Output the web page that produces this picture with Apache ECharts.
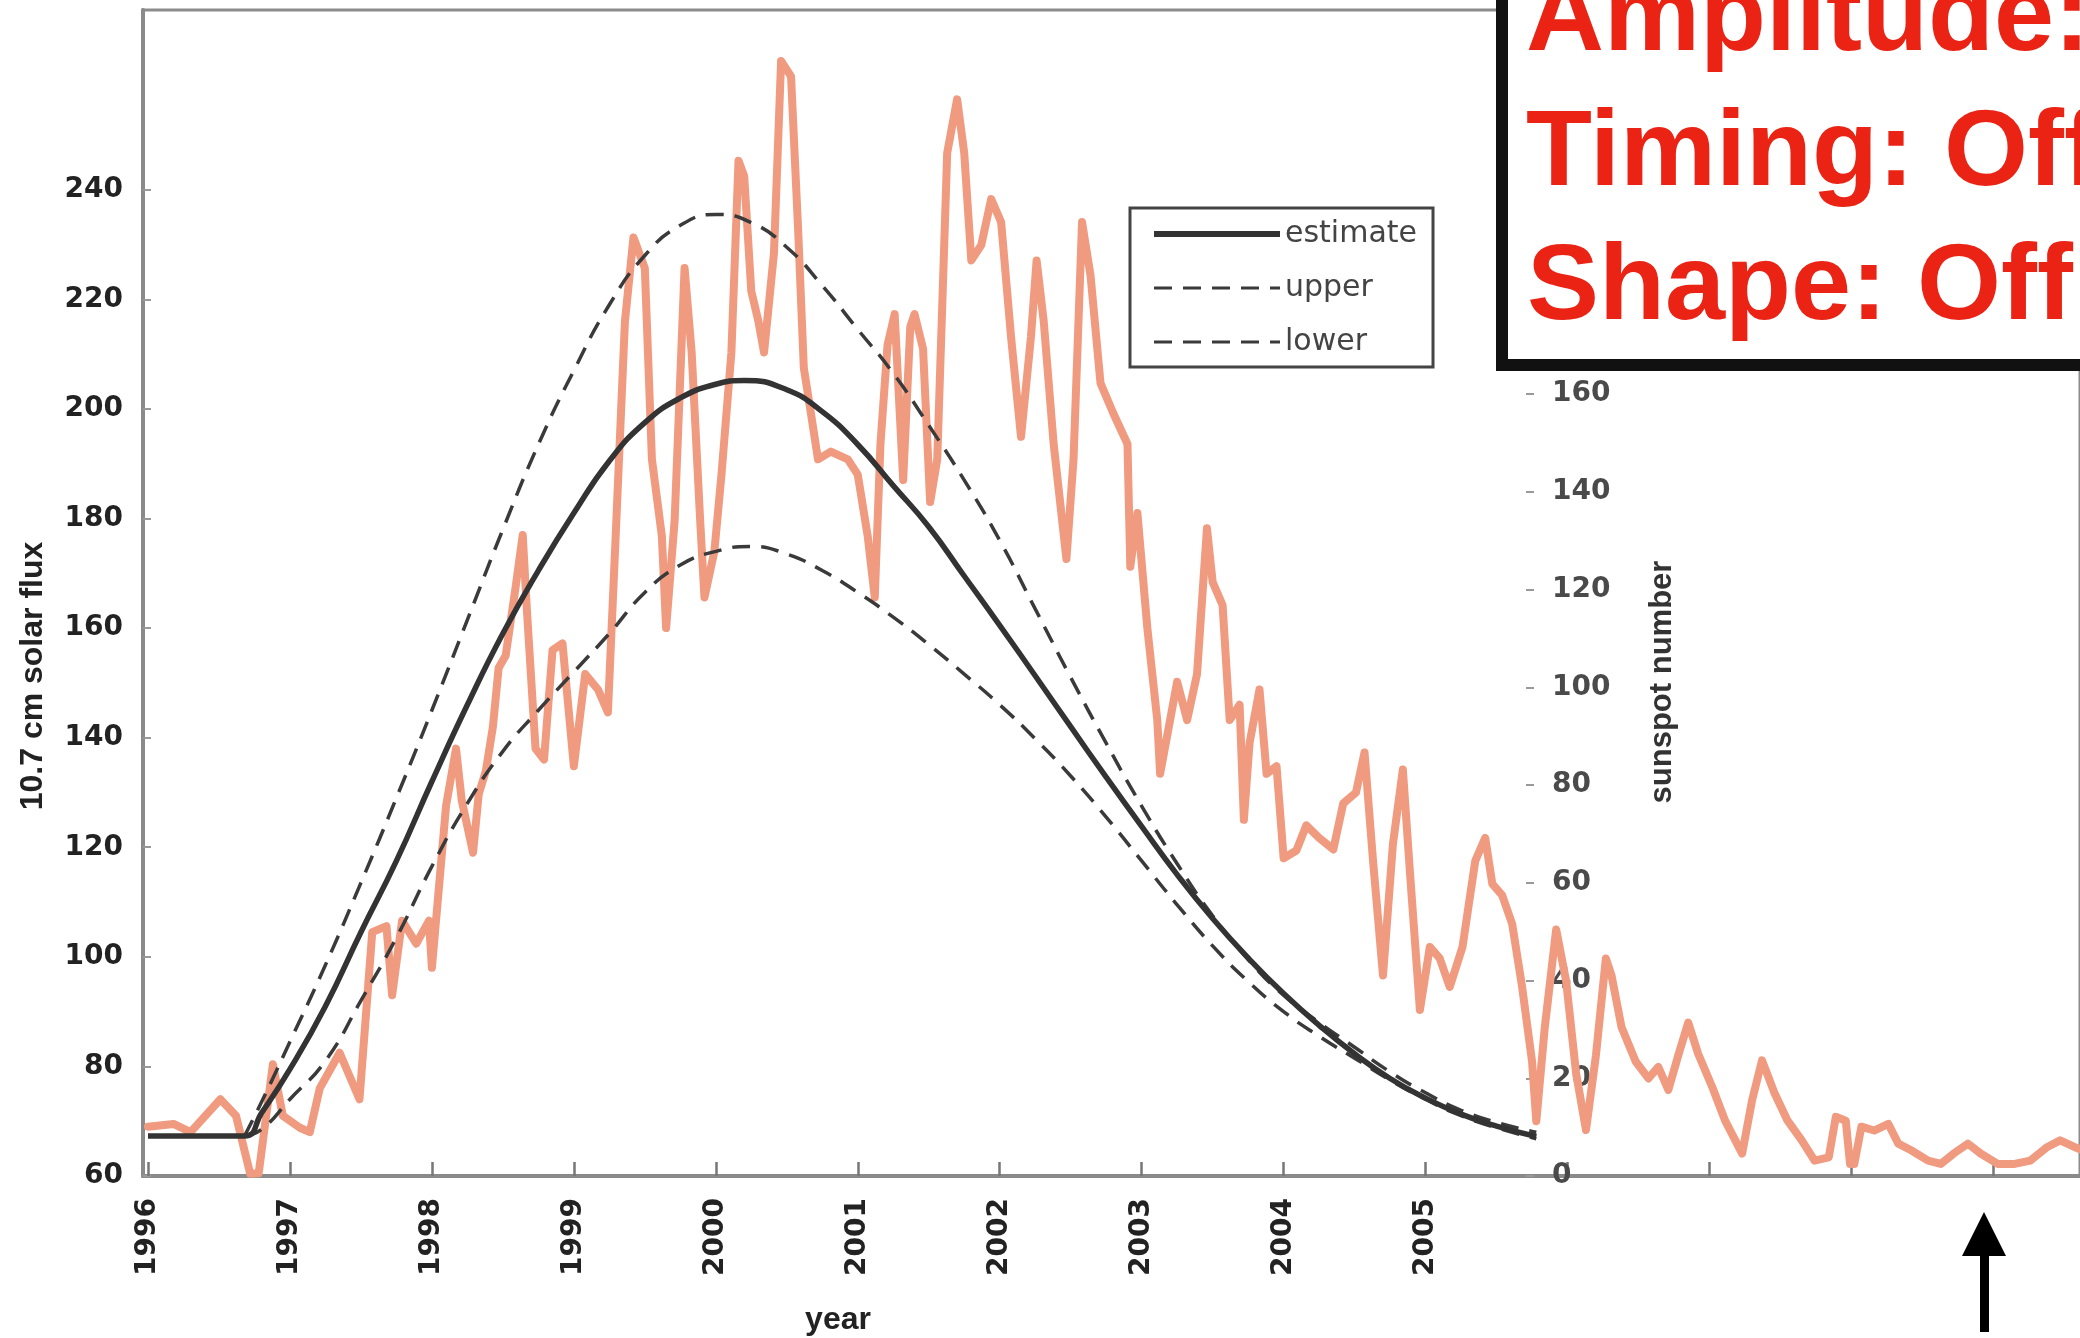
<!DOCTYPE html>
<html>
<head>
<meta charset="utf-8">
<script src="https://cdn.jsdelivr.net/npm/echarts@6/dist/echarts.min.js"></script>
<style>
html,body{margin:0;padding:0;background:#fff;}
#main{width:2080px;height:1338px;}
</style>
</head>
<body>
<div id="main"></div>
<script>
// ---------- DATA ----------
const observedYears = [1996.00,1996.18,1996.30,1996.51,1996.62,1996.72,1996.78,1996.88,1996.95,1997.07,1997.14,1997.21,1997.35,1997.49,1997.58,1997.68,1997.72,1997.79,1997.89,1997.98,1998.00,1998.10,1998.17,1998.21,1998.29,1998.33,1998.38,1998.43,1998.47,1998.52,1998.59,1998.64,1998.67,1998.73,1998.79,1998.85,1998.92,1999.00,1999.08,1999.17,1999.24,1999.29,1999.36,1999.42,1999.50,1999.55,1999.62,1999.65,1999.71,1999.78,1999.83,1999.89,1999.92,1999.99,2000.04,2000.11,2000.16,2000.20,2000.25,2000.30,2000.34,2000.41,2000.46,2000.53,2000.58,2000.62,2000.67,2000.72,2000.81,2000.93,2001.00,2001.07,2001.12,2001.16,2001.21,2001.26,2001.32,2001.37,2001.40,2001.46,2001.51,2001.56,2001.63,2001.70,2001.75,2001.80,2001.87,2001.94,2002.01,2002.08,2002.15,2002.22,2002.26,2002.31,2002.38,2002.47,2002.52,2002.58,2002.64,2002.71,2002.80,2002.90,2002.92,2002.97,2003.04,2003.11,2003.13,2003.18,2003.25,2003.32,2003.39,2003.46,2003.50,2003.57,2003.62,2003.69,2003.72,2003.76,2003.83,2003.88,2003.95,2004.00,2004.09,2004.16,2004.25,2004.35,2004.42,2004.51,2004.57,2004.63,2004.70,2004.77,2004.84,2004.89,2004.96,2005.03,2005.10,2005.17,2005.26,2005.35,2005.42,2005.47,2005.54,2005.61,2005.68,2005.75,2005.78,2005.84,2005.92,2005.99,2006.06,2006.13,2006.20,2006.27,2006.31,2006.38,2006.48,2006.57,2006.64,2006.71,2006.78,2006.85,2006.92,2007.02,2007.11,2007.23,2007.30,2007.37,2007.46,2007.55,2007.65,2007.74,2007.84,2007.89,2007.96,2007.99,2008.02,2008.07,2008.16,2008.26,2008.33,2008.42,2008.54,2008.63,2008.72,2008.82,2008.91,2009.03,2009.15,2009.26,2009.38,2009.47,2009.57,2009.65];
const observedFlux = [69,69.5,68,74,71,60.4,60.5,80.4,71,68.8,68,76,82.5,74,104.5,105.6,93,106.6,102.4,106.6,98,127.6,138,128.6,119,129.7,133.9,142,152.7,155,167.5,177,163,138,136,156,157.2,134.8,151.6,148.8,144.6,174,216,231.3,225.7,190.8,176.8,160,179.6,225.7,210.3,179.6,165.6,174,188,210.3,245.3,242.5,221.5,216,210.3,228.5,263.5,260.7,232.7,207.5,199.2,190.8,192.2,190.8,188,176.8,165.6,193.6,211.7,217.3,187,215,217.3,211,183,190.8,246.7,256.5,246.7,227.1,229.9,238.3,234.1,213.1,194.9,213.1,227.1,216,193.6,172.6,190.8,234.1,224.3,204.7,199.2,193.6,171.2,181,160,143.2,133.4,140.4,150.2,143.2,151.6,178.2,168.4,164.2,143.2,146,125,139,148.8,133.4,134.8,118,119.4,124,121.7,119.6,128,130,137.3,117.5,96.6,120.6,134.2,115.4,90.3,101.8,99.7,94.5,101.8,117.5,121.7,113.3,111.2,106,94.5,80.9,70,87.2,105,95.6,78.8,68.4,82,99.7,96.6,87.2,80.9,77.8,79.9,75.7,82,88,82.3,76.2,70.1,64.1,73.8,81.1,75,70.1,66.5,62.8,63.4,70.8,70.1,62.2,62.2,69,68.3,69.5,65.9,64.7,62.8,62.2,64.1,65.9,64.1,62.2,62.2,62.8,65.3,66.5,65.3,64.5];

const estimateYears = [1996.00,1996.68,1996.80,1997.00,1997.25,1997.50,1997.75,1998.00,1998.25,1998.50,1998.75,1999.00,1999.25,1999.50,1999.75,2000.00,2000.20,2000.50,2000.75,2001.00,2001.25,2001.50,2001.75,2002.00,2002.25,2002.50,2002.75,2003.00,2003.25,2003.50,2003.75,2004.00,2004.25,2004.50,2004.75,2005.00,2005.25,2005.50,2005.78];
const estimateFlux  = [67.3,67.3,71.5,79.5,91,104.5,117.5,132,146,159,170.5,181,190.5,197.5,202,204.5,205.2,203.5,199.5,193.5,186,178.5,169.5,160.5,151.3,142,132.8,123.8,115,107,99.8,93.3,87.5,82.3,77.8,74.2,71.3,69.1,67.2];

const upperYears = [1996.68,1996.80,1997.00,1997.25,1997.50,1997.75,1998.00,1998.25,1998.50,1998.75,1999.00,1999.25,1999.50,1999.75,2000.00,2000.25,2000.50,2000.75,2001.00,2001.25,2001.50,2001.75,2002.00,2002.25,2002.50,2002.75,2003.00,2003.25,2003.50,2003.75,2004.00,2004.25,2004.50,2004.75,2005.00,2005.25,2005.50,2005.78];
const upperFlux  = [67.3,73.5,84.5,98.5,113.5,129,145,161.5,178,193.5,207,219,228,233.5,235.5,234,229.5,222.5,214.5,206.5,197,187,176,163.5,151,139,127.5,117,107.5,99.5,93,88,83.5,79,75.2,72,69.8,68];

const lowerYears = [1996.68,1996.80,1997.00,1997.25,1997.50,1997.75,1998.00,1998.25,1998.50,1998.75,1999.00,1999.25,1999.50,1999.75,2000.00,2000.25,2000.50,2000.75,2001.00,2001.25,2001.50,2001.75,2002.00,2002.25,2002.50,2002.75,2003.00,2003.25,2003.50,2003.75,2004.00,2004.25,2004.50,2004.75,2005.00,2005.25,2005.50,2005.78];
const lowerFlux  = [67.3,68.5,74,81,92,103.5,116.5,128,137.5,145,152,159,166.5,171.5,174,174.9,173.5,170.5,166.5,162,157,151.6,146,139.8,133,125.5,117.5,109.5,102,95.5,90,85.5,81.5,77.5,74,71,68.8,66.8];

const yearLabels   = [1996,1997,1998,1999,2000,2001,2002,2003,2004,2005];
const yearTicks    = [1996,1997,1998,1999,2000,2001,2002,2003,2004,2005,2006,2007,2008,2009];
const fluxTicks    = [60,80,100,120,140,160,180,200,220,240];
const sunspotTicks = [0,20,40,60,80,100,120,140,160];
const verdictLines = ['Amplitude: Off','Timing: Off','Shape: Off'];

// ---------- CHART ----------
const zip = (xs, ys) => xs.map((x, i) => [x, ys[i]]);
const chart = echarts.init(document.getElementById('main'), null, {renderer: 'canvas', width: 2080, height: 1338});

const labelFont = {fontFamily: 'DejaVu Sans', fontWeight: 'bold', fontSize: 28, color: '#222'};
const nameFont = 'bold 32px "Liberation Sans", Arial, sans-serif';
const verdictFont = 'bold 108px "Liberation Sans", Arial, sans-serif';

const option = {
  animation: false,
  backgroundColor: '#ffffff',
  grid: {left: 143, top: 10, right: -6, bottom: 162, show: true, borderColor: '#8c8c8c', borderWidth: 3, backgroundColor: 'transparent'},
  legend: {
    data: [
      {name: 'estimate', lineStyle: {width: 6}},
      {name: 'upper', lineStyle: {width: 3}},
      {name: 'lower', lineStyle: {width: 3}}
    ],
    orient: 'vertical',
    left: 1130, top: 208,
    itemWidth: 126, itemHeight: 18, itemGap: 24,
    padding: [11, 16, 10, 21],
    borderColor: '#444', borderWidth: 3,
    itemStyle: {opacity: 0},
    textStyle: {fontFamily: 'DejaVu Sans', fontSize: 30, color: '#444'}
  },
  xAxis: {
    type: 'value', min: 1995.965, max: 2009.61,
    axisLine: {show: true, onZero: false, lineStyle: {color: '#8a8a8a', width: 4}},
    axisTick: {show: true, inside: true, length: 14, customValues: yearTicks, lineStyle: {color: '#777', width: 2.5}},
    axisLabel: Object.assign({customValues: yearLabels, rotate: 90, margin: 22, formatter: v => String(Math.round(v))}, labelFont),
    splitLine: {show: false}
  },
  yAxis: [
    {
      type: 'value', min: 60, max: 272.8, position: 'left',
      axisLine: {show: true, onZero: false, lineStyle: {color: '#8a8a8a', width: 4}},
      axisTick: {show: true, inside: true, length: 8, customValues: fluxTicks, lineStyle: {color: '#999', width: 2}},
      axisLabel: Object.assign({customValues: fluxTicks, margin: 20}, labelFont),
      splitLine: {show: false}
    },
    {
      type: 'value', min: 0, max: 238.6, position: 'right', offset: -546,
      axisLine: {show: false, onZero: false},
      axisTick: {show: true, inside: true, length: 8, customValues: sunspotTicks, lineStyle: {color: '#999', width: 2}},
      axisLabel: Object.assign({customValues: sunspotTicks, margin: 18}, labelFont, {color: '#4a4a4a'}),
      splitLine: {show: false}
    }
  ],
  series: [
    {
      name: 'observed', type: 'line', yAxisIndex: 0, z: 2,
      data: zip(observedYears, observedFlux),
      symbol: 'none', smooth: false,
      lineStyle: {color: '#f09a80', width: 8, join: 'round', cap: 'round'}
    },
    {
      name: 'estimate', type: 'line', yAxisIndex: 0, z: 4,
      data: zip(estimateYears, estimateFlux),
      symbol: 'none', smooth: 0.5,
      lineStyle: {color: '#333', width: 5.5},
      itemStyle: {color: '#333'}
    },
    {
      name: 'upper', type: 'line', yAxisIndex: 0, z: 3,
      data: zip(upperYears, upperFlux),
      symbol: 'none', smooth: 0.5,
      lineStyle: {color: '#3a3a3a', width: 3.5, type: [18, 11]},
      itemStyle: {color: '#3a3a3a'}
    },
    {
      name: 'lower', type: 'line', yAxisIndex: 0, z: 3,
      data: zip(lowerYears, lowerFlux),
      symbol: 'none', smooth: 0.5,
      lineStyle: {color: '#3a3a3a', width: 3.5, type: [18, 11]},
      itemStyle: {color: '#3a3a3a'}
    }
  ],
  graphic: [
    {type: 'text', z: 50, x: 33, y: 676, rotation: Math.PI / 2,
     style: {text: '10.7 cm solar flux', font: nameFont, fill: '#222', textAlign: 'center', textVerticalAlign: 'middle'}},
    {type: 'text', z: 50, x: 1662, y: 682, rotation: Math.PI / 2,
     style: {text: 'sunspot number', font: 'bold 31px "Liberation Sans", Arial, sans-serif', fill: '#333', textAlign: 'center', textVerticalAlign: 'middle'}},
    {type: 'text', z: 50, x: 838, y: 1320,
     style: {text: 'year', font: nameFont, fill: '#222', textAlign: 'center', textVerticalAlign: 'middle'}},
    {type: 'rect', z: 100, shape: {x: 1502, y: -20, width: 700, height: 385},
     style: {fill: '#ffffff', stroke: '#111', lineWidth: 12}},
    {type: 'text', z: 101, x: 1526, y: 20,
     style: {text: verdictLines[0], font: verdictFont, fill: '#eb2314', textAlign: 'left', textVerticalAlign: 'middle'}},
    {type: 'text', z: 101, x: 1526, y: 155,
     style: {text: verdictLines[1], font: verdictFont, fill: '#eb2314', textAlign: 'left', textVerticalAlign: 'middle'}},
    {type: 'text', z: 101, x: 1527, y: 289,
     style: {text: verdictLines[2], font: verdictFont, fill: '#eb2314', textAlign: 'left', textVerticalAlign: 'middle'}},
    {type: 'polygon', z: 100, shape: {points: [[1984, 1212], [1962, 1256], [2006, 1256]]}, style: {fill: '#000'}},
    {type: 'rect', z: 100, shape: {x: 1980, y: 1254, width: 9, height: 78}, style: {fill: '#000'}}
  ]
};
chart.setOption(option);
</script>
</body>
</html>
